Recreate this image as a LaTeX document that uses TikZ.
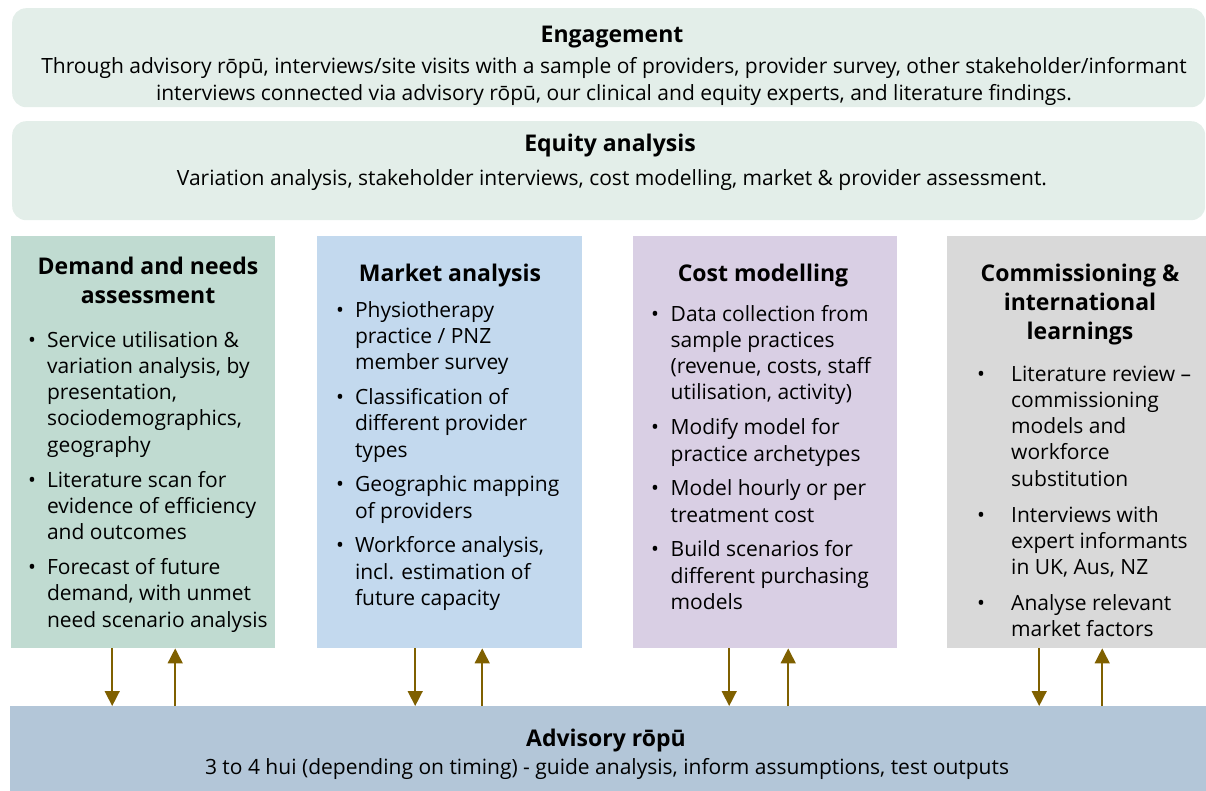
\documentclass[tikz,border=0pt]{standalone}
\usepackage{fontspec}
\setmainfont{Open Sans}
\usepackage{enumitem}
\usetikzlibrary{arrows.meta}

\definecolor{bandfill}{HTML}{E3EEE9}
\definecolor{demandfill}{HTML}{C0DBD1}
\definecolor{marketfill}{HTML}{C3D9EE}
\definecolor{costfill}{HTML}{D9CFE4}
\definecolor{commfill}{HTML}{D9D9D9}
\definecolor{advisoryfill}{HTML}{B3C6D8}
\definecolor{arrowgold}{HTML}{7F6000}

\newcommand{\bodysize}{\fontsize{21}{26.3}\selectfont}
\newcommand{\headsize}{\fontsize{23}{28.7}\selectfont\bfseries}

\setlist[itemize]{label=\textbullet, labelsep=0pt, align=left, topsep=0pt,
  partopsep=0pt, parsep=0pt, itemsep=8.5pt}

\tikzset{
  band/.style={anchor=north west, inner sep=0, fill=bandfill, rounded corners=14,
    minimum width=1193, minimum height=99},
  colbox/.style={anchor=north west, inner sep=0, minimum width=264, minimum height=412},
  head/.style={inner sep=0, font=\headsize},
  body/.style={inner sep=0, font=\bodysize},
  flow/.style={draw=arrowgold, line width=1.5, -{Triangle[width=15,length=15]}}
}

\begin{document}
\begin{tikzpicture}[x=1pt,y=-1pt]
\useasboundingbox (0,0) rectangle (1206,791);

% top bands
\node[band] (engage) at (12,8) {};
\node[band] (equity) at (12,121) {};
\node[head, anchor=base] (engagetitle) at (612,43) {Engagement};
\node[body, anchor=base] (engagetext) at (614,74) {\begin{minipage}[t]{1190pt}\centering
  Through advisory rōpū, interviews/site visits with a sample of providers, provider survey, other stakeholder/informant\\
  interviews connected via advisory rōpū, our clinical and equity experts, and literature findings.\end{minipage}};
\node[head, anchor=base] (equitytitle) at (610,152) {Equity analysis};
\node[body, anchor=base] (equitytext) at (612,186) {Variation analysis, stakeholder interviews, cost modelling, market \& provider assessment.};

% the four work streams
\node[colbox, fill=demandfill, minimum width=264] (demand) at (11,236) {};
\node[colbox, fill=marketfill, minimum width=265] (market) at (317,236) {};
\node[colbox, fill=costfill, minimum width=264] (cost) at (633,236) {};
\node[colbox, fill=commfill, minimum width=259] (comm) at (947,236) {};

\node[head, anchor=base] (demandtitle) at (148,275) {\begin{minipage}[t]{260pt}\centering
  Demand and needs\\ assessment\end{minipage}};
\node[head, anchor=base] (markettitle) at (450,282) {Market analysis};
\node[head, anchor=base] (costtitle) at (763,282) {Cost modelling};
\node[head, anchor=base] (commtitle) at (1080,282) {\begin{minipage}[t]{250pt}\centering
  Commissioning \&\\ international\\ learnings\end{minipage}};

\node[body, anchor=base west] (demandlist) at (28,347) {\begin{minipage}[t]{250pt}
  \begin{itemize}[leftmargin=18.8pt, labelwidth=18.8pt]
  \item Service utilisation \&\\ variation analysis, by\\ presentation,\\ sociodemographics,\\ geography
  \item Literature scan for\\ evidence of efficiency\\ and outcomes
  \item Forecast of future\\ demand, with unmet\\ need scenario analysis
  \end{itemize}\end{minipage}};
\node[body, anchor=base west] (marketlist) at (336,317) {\begin{minipage}[t]{245pt}
  \begin{itemize}[leftmargin=18.8pt, labelwidth=18.8pt]
  \item Physiotherapy\\ practice / PNZ\\ member survey
  \item Classification of\\ different provider\\ types
  \item Geographic mapping\\ of providers
  \item Workforce analysis,\\ incl. estimation of\\ future capacity
  \end{itemize}\end{minipage}};
\node[body, anchor=base west] (costlist) at (651,321) {\begin{minipage}[t]{245pt}
  \begin{itemize}[leftmargin=19.5pt, labelwidth=19.5pt]
  \item Data collection from\\ sample practices\\ (revenue, costs, staff\\ utilisation, activity)
  \item Modify model for\\ practice archetypes
  \item Model hourly or per\\ treatment cost
  \item Build scenarios for\\ different purchasing\\ models
  \end{itemize}\end{minipage}};
\node[body, anchor=base west] (commlist) at (977,381) {\begin{minipage}[t]{225pt}
  \begin{itemize}[leftmargin=34pt, labelwidth=34pt, itemsep=9.5pt]
  \item Literature review –\\ commissioning\\ models and\\ workforce\\ substitution
  \item Interviews with\\ expert informants\\ in UK, Aus, NZ
  \item Analyse relevant\\ market factors
  \end{itemize}\end{minipage}};

% advisory group along the bottom
\node[band, rounded corners=0, fill=advisoryfill, minimum width=1196, minimum height=85] (advisory) at (10,706) {};
\node[head, anchor=base] (advisorytitle) at (606,746) {Advisory rōpū};
\node[body, anchor=base] (advisorytext) at (607,774) {3 to 4 hui (depending on timing) - guide analysis, inform assumptions, test outputs};

% two-way links between each stream and the advisory group
\foreach \col/\dn/\up in {demand/-31/32, market/-34.5/32.5, cost/-36/23, comm/-37.5/25.5} {
  \draw[flow] ([xshift=\dn]\col.south) -- ([xshift=\dn]\col.south |- advisory.north);
  \draw[flow] ([xshift=\up]\col.south |- advisory.north) -- ([xshift=\up]\col.south);
}
\end{tikzpicture}
\end{document}
